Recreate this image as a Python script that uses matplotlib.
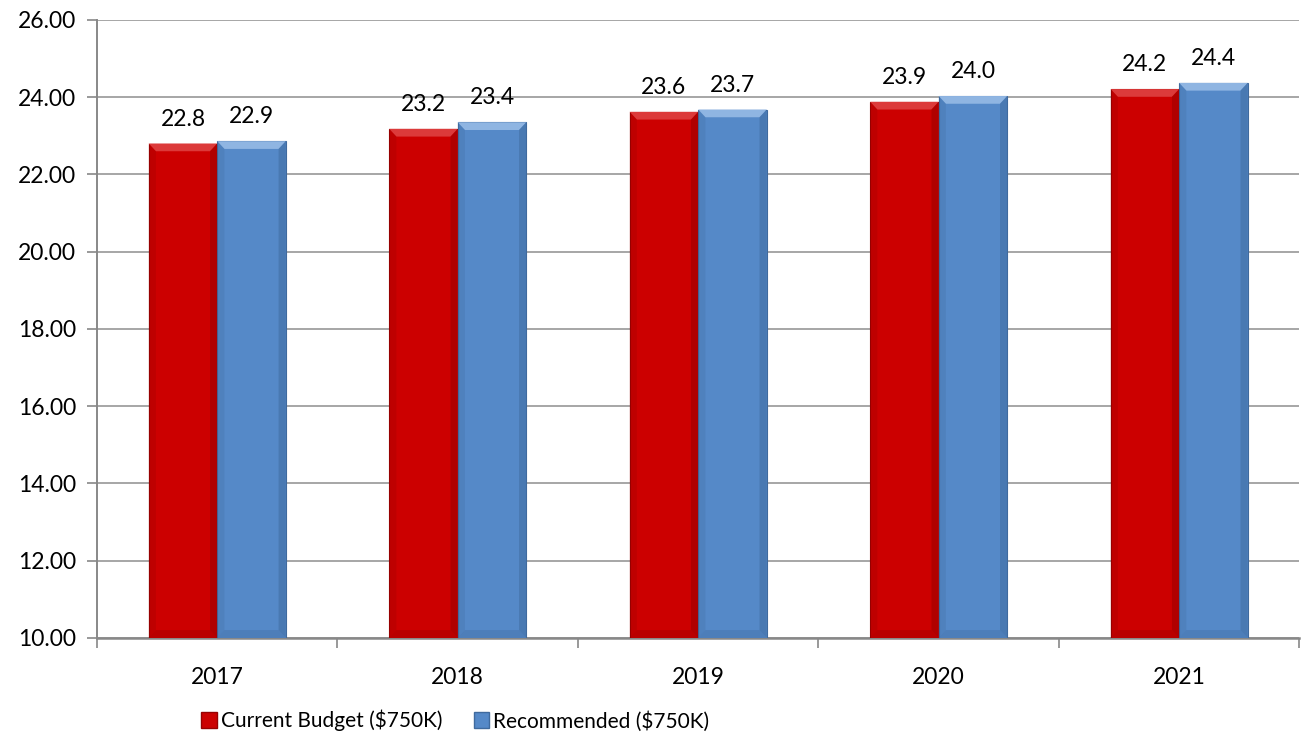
import matplotlib.pyplot as plt
from matplotlib.patches import Polygon, Patch
import numpy as np

years = ['2017', '2018', '2019', '2020', '2021']
current_budget = [22.80, 23.18, 23.62, 23.88, 24.21]
recommended = [22.86, 23.35, 23.68, 24.03, 24.37]
series_names = ['Current Budget ($750K)', 'Recommended ($750K)']

plt.rcParams['font.family'] = ['Lato', 'DejaVu Sans']

red = '#CC0000'
blue = '#5589C8'
red_light = '#DC3A3A'
blue_light = '#8FB5E2'
red_dark = '#960000'
blue_dark = '#3F6A9E'

fig = plt.figure(figsize=(13.02, 7.53), dpi=100)
ax = fig.add_axes([0.0745, 0.153, 0.9235, 0.8205])

x = np.arange(len(years))
w = 0.285
ymin = 10


def bevel(ax, bar, light, dark):
    # fake the office-style bevel: lighter top, darker right side and bottom
    x0, y0 = bar.get_x(), bar.get_y()
    bw, bh = bar.get_width(), bar.get_height()
    dx, dy = 0.03, 0.2
    top = [(x0, y0 + bh), (x0 + bw, y0 + bh), (x0 + bw - dx, y0 + bh - dy), (x0 + dx, y0 + bh - dy)]
    right = [(x0 + bw, y0 + bh), (x0 + bw, y0), (x0 + bw - dx, y0 + dy), (x0 + bw - dx, y0 + bh - dy)]
    left = [(x0, y0 + bh), (x0, y0), (x0 + dx, y0 + dy), (x0 + dx, y0 + bh - dy)]
    bottom = [(x0, y0), (x0 + bw, y0), (x0 + bw - dx, y0 + dy), (x0 + dx, y0 + dy)]
    ax.add_patch(Polygon(top, closed=True, facecolor=light, edgecolor='none', zorder=4))
    ax.add_patch(Polygon(right, closed=True, facecolor=dark, edgecolor='none', alpha=0.5, zorder=4))
    ax.add_patch(Polygon(left, closed=True, facecolor=dark, edgecolor='none', alpha=0.25, zorder=4))
    ax.add_patch(Polygon(bottom, closed=True, facecolor=dark, edgecolor='none', alpha=0.35, zorder=4))


bars1 = ax.bar(x - w / 2, np.array(current_budget) - ymin, w, bottom=ymin, color=red,
               edgecolor=red_dark, linewidth=0.8, zorder=3)
bars2 = ax.bar(x + w / 2, np.array(recommended) - ymin, w, bottom=ymin, color=blue,
               edgecolor=blue_dark, linewidth=0.8, zorder=3)

for b, v in zip(bars1, current_budget):
    bevel(ax, b, red_light, red_dark)
    ax.text(b.get_x() + b.get_width() / 2, v + 0.36, f'{v:.1f}', ha='center', va='bottom', fontsize=16.5)
for b, v in zip(bars2, recommended):
    bevel(ax, b, blue_light, blue_dark)
    ax.text(b.get_x() + b.get_width() / 2, v + 0.36, f'{v:.1f}', ha='center', va='bottom', fontsize=16.5)

ax.set_xlim(-0.5, len(years) - 0.5)
ax.set_ylim(10, 26)
ax.set_yticks(np.arange(10, 27, 2))
ax.set_yticklabels([f'{t:.2f}' for t in np.arange(10, 27, 2)], fontsize=16.5)
ax.set_xticks(x)
ax.set_xticklabels(years, fontsize=16.5)
ax.set_xticks(np.arange(-0.5, len(years), 1), minor=True)
ax.tick_params(axis='x', which='major', length=0, pad=21)
ax.tick_params(axis='x', which='minor', length=7, color='#888888', width=1.2)
ax.tick_params(axis='y', length=7, color='#888888', width=1.2, pad=8)

ax.yaxis.grid(True, color='#A6A6A6', linewidth=1.4, zorder=0)
ax.set_axisbelow(True)
for s in ['top', 'right']:
    ax.spines[s].set_visible(False)
ax.spines['left'].set_color('#888888')
ax.spines['left'].set_linewidth(1.4)
ax.spines['bottom'].set_color('#888888')
ax.spines['bottom'].set_linewidth(1.8)

handles = [Patch(facecolor=red, edgecolor=red_dark), Patch(facecolor=blue, edgecolor=blue_dark)]
fig.legend(handles, series_names, loc='center left', bbox_to_anchor=(0.14, 0.043), ncol=2,
           frameon=False, fontsize=15, handlelength=0.75, handleheight=0.75,
           handletextpad=0.2, columnspacing=1.5)

fig.savefig('out.png', dpi=100)
